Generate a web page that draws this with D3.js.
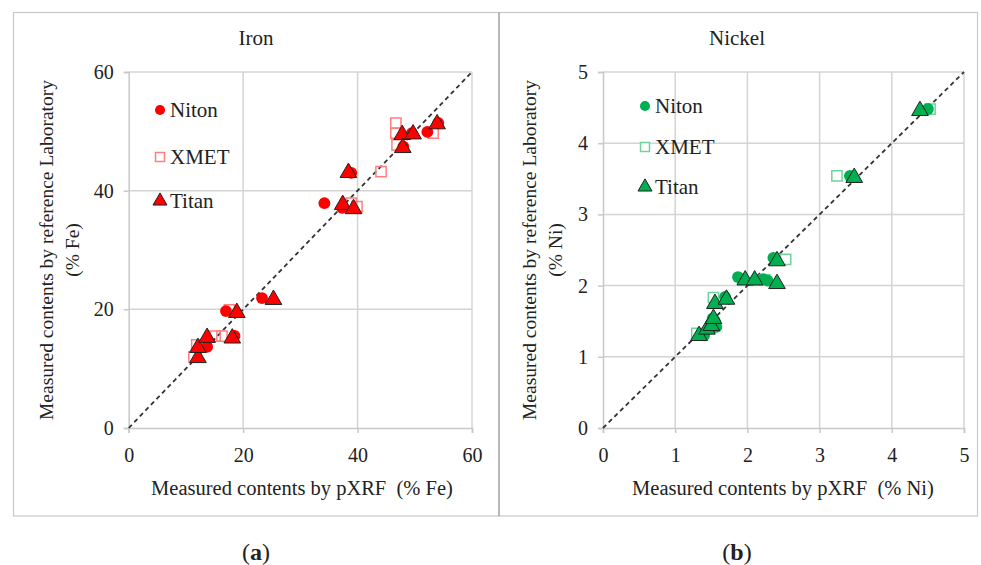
<!DOCTYPE html>
<html><head><meta charset="utf-8">
<script src="https://cdn.jsdelivr.net/npm/d3@7"></script>
<style>body{margin:0;background:#fff;} text{font-family:"Liberation Serif","Times New Roman",serif;fill:#222;}</style>
</head><body><svg id="c" width="981" height="565"></svg>
<script>
// ---- data ----
const ironTicks = [0, 20, 40, 60];
const nickelTicks = [0, 1, 2, 3, 4, 5];
const seriesNames = ["Niton", "XMET", "Titan"];
const ironNiton = [[13.7,13.7],[17,19.7],[18.5,15.5],[23.3,21.9],[34.2,37.9],[37.3,37.1],[38.9,43],[48,47.4],[49.5,49.7],[52.2,49.9],[54.1,51.4]];
const ironXmet = [[11.4,12],[11.9,14],[15.1,15.5],[16.3,15.5],[17.6,19.9],[38.9,37.9],[39.9,37.3],[44.1,43.2],[46.7,51.4],[46.7,49.7],[46.9,47.7],[53.2,49.7]];
const ironTitan = [[12.1,12],[12.1,13.7],[13.7,15.4],[18.1,15.3],[18.9,19.6],[25.3,21.8],[37.4,37.8],[38.4,43.2],[39.3,37.1],[47.8,49.6],[47.9,47.4],[49.7,49.7],[53.9,51.4]];
const nickelNiton = [[1.4,1.3],[1.5,1.4],[1.57,1.42],[1.52,1.54],[1.55,1.5],[1.69,1.84],[1.87,2.12],[2.22,2.09],[2.28,2.07],[2.36,2.39],[3.42,3.54],[4.5,4.48]];
const nickelXmet = [[1.3,1.33],[1.53,1.83],[2.24,2.08],[2.53,2.37],[3.24,3.54],[4.53,4.48]];
const nickelTitan = [[1.33,1.31],[1.44,1.4],[1.5,1.45],[1.53,1.55],[1.55,1.76],[1.71,1.82],[1.97,2.09],[2.1,2.09],[2.41,2.36],[2.41,2.04],[3.48,3.53],[4.39,4.47]];

const FONT = "Liberation Serif";
const svg = d3.select("#c");
// panel frames
svg.append("rect").attr("x",13.5).attr("y",12.5).attr("width",964).attr("height",503.5)
  .attr("fill","none").attr("stroke","#c8c8c8").attr("stroke-width",1.2);
svg.append("line").attr("x1",499).attr("x2",499).attr("y1",12.5).attr("y2",516)
  .attr("stroke","#8a8a8a").attr("stroke-width",1.2);

function panel(opt){
  const g = svg.append("g");
  const x = d3.scaleLinear().domain(opt.domain).range([opt.x0, opt.x1]);
  const y = d3.scaleLinear().domain(opt.domain).range([428, 72]);
  // gridlines
  g.selectAll(".gv").data(opt.ticks.slice(1)).join("line")
    .attr("x1",d=>x(d)).attr("x2",d=>x(d)).attr("y1",y.range()[0]).attr("y2",y.range()[1])
    .attr("stroke","#d4d4d4").attr("stroke-width",1.5);
  g.selectAll(".gh").data(opt.ticks.slice(1)).join("line")
    .attr("y1",d=>y(d)).attr("y2",d=>y(d)).attr("x1",x.range()[0]).attr("x2",x.range()[1])
    .attr("stroke","#d4d4d4").attr("stroke-width",1.5);
  // axes
  const xa = g.append("g").attr("transform",`translate(0,${y(0)})`)
    .call(d3.axisBottom(x).tickValues(opt.ticks).tickSize(5).tickPadding(15).tickFormat(d3.format("d")));
  const ya = g.append("g").attr("transform",`translate(${x(0)},0)`)
    .call(d3.axisLeft(y).tickValues(opt.ticks).tickSize(5).tickPadding(10).tickFormat(d3.format("d")));
  [xa,ya].forEach(a=>{
    a.select(".domain").attr("stroke","#c8c8c8").attr("stroke-width",1.5);
    a.selectAll(".tick line").attr("stroke","#c8c8c8").attr("stroke-width",1.5);
    a.selectAll(".tick text").attr("font-size",20).attr("font-family",FONT).attr("fill","#222");
  });
  // 1:1 line
  g.append("line").attr("x1",x(opt.domain[0])).attr("y1",y(opt.domain[0]))
    .attr("x2",x(opt.domain[1])).attr("y2",y(opt.domain[1]))
    .attr("stroke","#333").attr("stroke-width",1.8).attr("stroke-dasharray","4.5,3.5");
  // markers
  const sym = {
    circle: d3.symbol().type(d3.symbolCircle).size(110),
    square: d3.symbol().type(d3.symbolSquare).size(105),
    tri: d3.symbol().type(d3.symbolTriangle).size(120)
  };
  g.selectAll(".xm").data(opt.xmet).join("path").attr("d",sym.square())
    .attr("transform",d=>`translate(${x(d[0])},${y(d[1])})`)
    .attr("fill","none").attr("stroke",opt.light).attr("stroke-width",1.5);
  g.selectAll(".ni").data(opt.niton).join("path").attr("d",sym.circle())
    .attr("transform",d=>`translate(${x(d[0])},${y(d[1])})`)
    .attr("fill",opt.color);
  g.selectAll(".ti").data(opt.titan).join("path").attr("d",sym.tri())
    .attr("transform",d=>`translate(${x(d[0])},${y(d[1])+1})`)
    .attr("fill",opt.color).attr("stroke","#222").attr("stroke-width",1);
  // legend
  const L = opt.legend;
  const lg = g.append("g");
  seriesNames.forEach((n,i)=>{
    const ly = L.ys[i];
    const p = lg.append("path").attr("d",(i===0? d3.symbol().type(d3.symbolCircle).size(80) : i===1? d3.symbol().type(d3.symbolSquare).size(80) : d3.symbol().type(d3.symbolTriangle).size(85))())
      .attr("transform",`translate(${L.x},${ly})`);
    if(i===0) p.attr("fill",opt.color);
    else if(i===1) p.attr("fill","#fff").attr("stroke",opt.light).attr("stroke-width",1.5);
    else p.attr("fill",opt.color).attr("stroke","#222").attr("stroke-width",1);
    lg.append("text").attr("x",L.x+10).attr("y",ly+7).attr("font-size",21).text(n);
  });
  // title
  g.append("text").attr("x",opt.titleX).attr("y",45).attr("text-anchor","middle").attr("font-size",21).text(opt.title);
  // axis titles
  g.append("text").attr("x",opt.xTitleX).attr("y",495).attr("text-anchor","middle").attr("font-size",20.5).text(opt.xTitle);
  const yt = g.append("text").attr("transform",`translate(${opt.yTitleX},250) rotate(-90)`).attr("text-anchor","middle").attr("font-size",19.5);
  yt.append("tspan").attr("x",0).attr("dy",0).text("Measured contents by reference Laboratory");
  yt.append("tspan").attr("x",0).attr("dy",26).text(opt.yUnit);
  // caption
  const cap = svg.append("text").attr("x",opt.capX).attr("y",560).attr("text-anchor","middle").attr("font-size",24);
  cap.append("tspan").text("(");
  cap.append("tspan").attr("font-weight","bold").text(opt.cap);
  cap.append("tspan").text(")");
}

panel({domain:[0,60], ticks:ironTicks, x0:128.7, x1:472, niton:ironNiton, xmet:ironXmet, titan:ironTitan,
  color:"#ff0000", light:"#ff7f7f", legend:{x:160, ys:[110,157,201]}, title:"Iron", titleX:256,
  xTitle:"Measured contents by pXRF\u00a0 (% Fe)", xTitleX:302, yTitleX:53, yUnit:"(% Fe)", capX:256, cap:"a"});
panel({domain:[0,5], ticks:nickelTicks, x0:603, x1:964, niton:nickelNiton, xmet:nickelXmet, titan:nickelTitan,
  color:"#00b050", light:"#6fd39c", legend:{x:645, ys:[106,147,187]}, title:"Nickel", titleX:737,
  xTitle:"Measured contents by pXRF\u00a0 (% Ni)", xTitleX:783, yTitleX:536, yUnit:"(% Ni)", capX:737, cap:"b"});
</script></body></html>
